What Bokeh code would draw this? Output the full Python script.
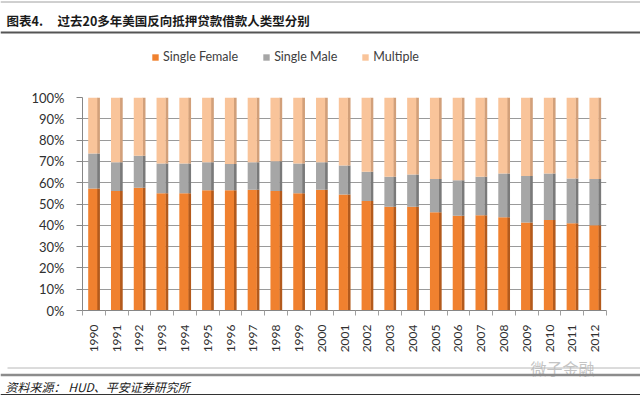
from math import pi
from bokeh.plotting import figure
from bokeh.layouts import column
from bokeh.models import Range1d, LinearAxis, FixedTicker, Legend, LegendItem
from bokeh.transform import dodge
from bokeh.core.properties import value
from bokeh.embed import file_html
from bokeh.resources import INLINE

years = [str(y) for y in range(1990, 2013)]
single_female = [57.3, 56.1, 57.6, 55.0, 55.0, 56.4, 56.5, 56.7, 56.1, 55.0, 56.7, 54.5,
                 51.4, 48.7, 48.7, 46.1, 44.5, 44.7, 43.8, 41.3, 42.5, 41.0, 40.0]
single_male = [16.4, 13.5, 15.0, 14.0, 14.0, 13.2, 12.3, 12.9, 14.0, 14.0, 12.9, 13.6,
               13.7, 14.1, 15.2, 15.6, 16.7, 18.1, 20.5, 21.8, 21.8, 21.0, 21.7]
multiple = [26.3, 30.4, 27.4, 31.0, 31.0, 30.4, 31.2, 30.4, 29.9, 31.0, 30.4, 31.9,
            34.9, 37.2, 36.1, 38.3, 38.8, 37.2, 35.7, 36.9, 35.7, 38.0, 38.3]
series = ["Single Female", "Single Male", "Multiple"]
y_ticks = [0, 10, 20, 30, 40, 50, 60, 70, 80, 90, 100]

title_label = "图表4."
title_text = "过去20多年美国反向抵押贷款借款人类型分别"
source_text = "资料来源： HUD、平安证券研究所"
watermark = "微子金融"

front_colors = ["#F0812F", "#A6A6A6", "#F9C49A"]
side_colors = ["#B35A1C", "#7A7A7A", "#D2A07A"]
FONT = "Lato"
CJK = "Noto Sans CJK SC"
W = 640


def blank(y_top, y_bottom):
    f = figure(width=W, height=y_bottom - y_top, output_backend="svg", toolbar_location=None,
               x_range=Range1d(0, W), y_range=Range1d(y_bottom, y_top),
               x_axis_location=None, y_axis_location=None, min_border=0, frame_align=False)
    f.grid.visible = False
    f.outline_line_color = None
    return f


# ---- header: rules, title, legend ----
head = blank(0, 80)
head.segment(x0=[0], y0=[1.5], x1=[W], y1=[1.5], line_color="#A0A0A0", line_width=1)
head.text(x=[6], y=[20], text=[title_label], text_font=value(CJK), text_font_style="bold",
          text_font_size="12.5px", text_color="#1A1A1A", text_baseline="middle")
head.text(x=[57], y=[20], text=[title_text], text_font=value(CJK), text_font_style="bold",
          text_font_size="12.5px", text_color="#1A1A1A", text_baseline="middle")
head.segment(x0=[0], y0=[32], x1=[W], y1=[32], line_color="#555555", line_width=2)

legend_renderers = [head.rect(x=[-500], y=[40], width=1, height=1, fill_color=c, line_color=None)
                    for c in front_colors]
legend = Legend(items=[LegendItem(label=s, renderers=[legend_renderers[i]])
                       for i, s in enumerate(series)],
                orientation="horizontal", location=(151, 16), border_line_color=None,
                background_fill_alpha=0, padding=0, margin=0, spacing=24,
                glyph_width=8, glyph_height=8, label_standoff=4, label_height=14,
                label_text_font=FONT, label_text_font_size="12.5px",
                label_text_color="#404040")
head.add_layout(legend, "center")

# ---- main chart ----
slot = [i + 0.5 for i in range(len(years))]
data = {"slot": slot, "Single Female": single_female, "Single Male": single_male,
        "Multiple": multiple}

p = figure(width=W, height=275, output_backend="svg", toolbar_location=None,
           x_range=Range1d(0, len(years)), y_range=Range1d(0, 100),
           x_axis_location=None, min_border_left=82, min_border_right=34,
           min_border_top=17, min_border_bottom=42, frame_align=False)
p.outline_line_color = None
p.xgrid.grid_line_color = None
p.ygrid.grid_line_color = "#9A9A9A"
p.ygrid.ticker = FixedTicker(ticks=y_ticks)

p.vbar_stack(series, x=dodge("slot", 0.2), width=0.13,
             color=side_colors, source=data, line_color=None)
p.vbar_stack(series, x=dodge("slot", -0.05), width=0.4,
             color=front_colors, source=data, line_color=None)

yax = p.yaxis[0]
yax.ticker = FixedTicker(ticks=y_ticks)
yax.major_label_overrides = {t: f"{t}%" for t in y_ticks}
yax.axis_line_color = "#868686"
yax.major_tick_line_color = "#868686"
yax.major_tick_out = 6
yax.major_tick_in = 0
yax.minor_tick_line_color = None
yax.major_label_standoff = 12
yax.major_label_text_font = FONT
yax.major_label_text_font_size = "13px"
yax.major_label_text_color = "#303030"

tick_axis = LinearAxis(ticker=FixedTicker(ticks=list(range(len(years) + 1))),
                       major_tick_out=5, major_tick_in=0, minor_tick_line_color=None,
                       axis_line_color="#868686", major_tick_line_color="#A0A0A0",
                       major_label_text_font_size="1px", major_label_text_alpha=0,
                       major_label_standoff=0)
p.add_layout(tick_axis, "below")
year_axis = LinearAxis(ticker=FixedTicker(ticks=slot),
                       major_label_overrides={s: y for s, y in zip(slot, years)},
                       major_label_orientation=pi / 2, axis_line_color=None,
                       major_tick_line_color=None, minor_tick_line_color=None,
                       major_label_standoff=3,
                       major_label_text_font=FONT, major_label_text_font_size="12px",
                       major_label_text_color="#303030")
p.add_layout(year_axis, "below")

# ---- footer: watermark, rules and source ----
foot = blank(355, 396)
foot.text(x=[530], y=[367], text=[watermark], text_font=value(CJK), text_font_size="16px",
          text_color="#C4C4C4", text_baseline="middle")
foot.segment(x0=[7], y0=[367.5], x1=[W], y1=[367.5], line_color="#B8B8B8", line_width=1)
foot.segment(x0=[0], y0=[374.5], x1=[W], y1=[374.5], line_color="#8C8C8C", line_width=2.5)
foot.text(x=[5], y=[386], text=[source_text], text_font=value(CJK),
          text_font_style="italic", text_font_size="12px", text_color="#1A1A1A",
          text_baseline="middle")
foot.segment(x0=[0], y0=[394], x1=[W], y1=[394], line_color="#333333", line_width=1)

layout = column(head, p, foot, spacing=0)
open("out.html", "w").write(file_html(layout, INLINE))
